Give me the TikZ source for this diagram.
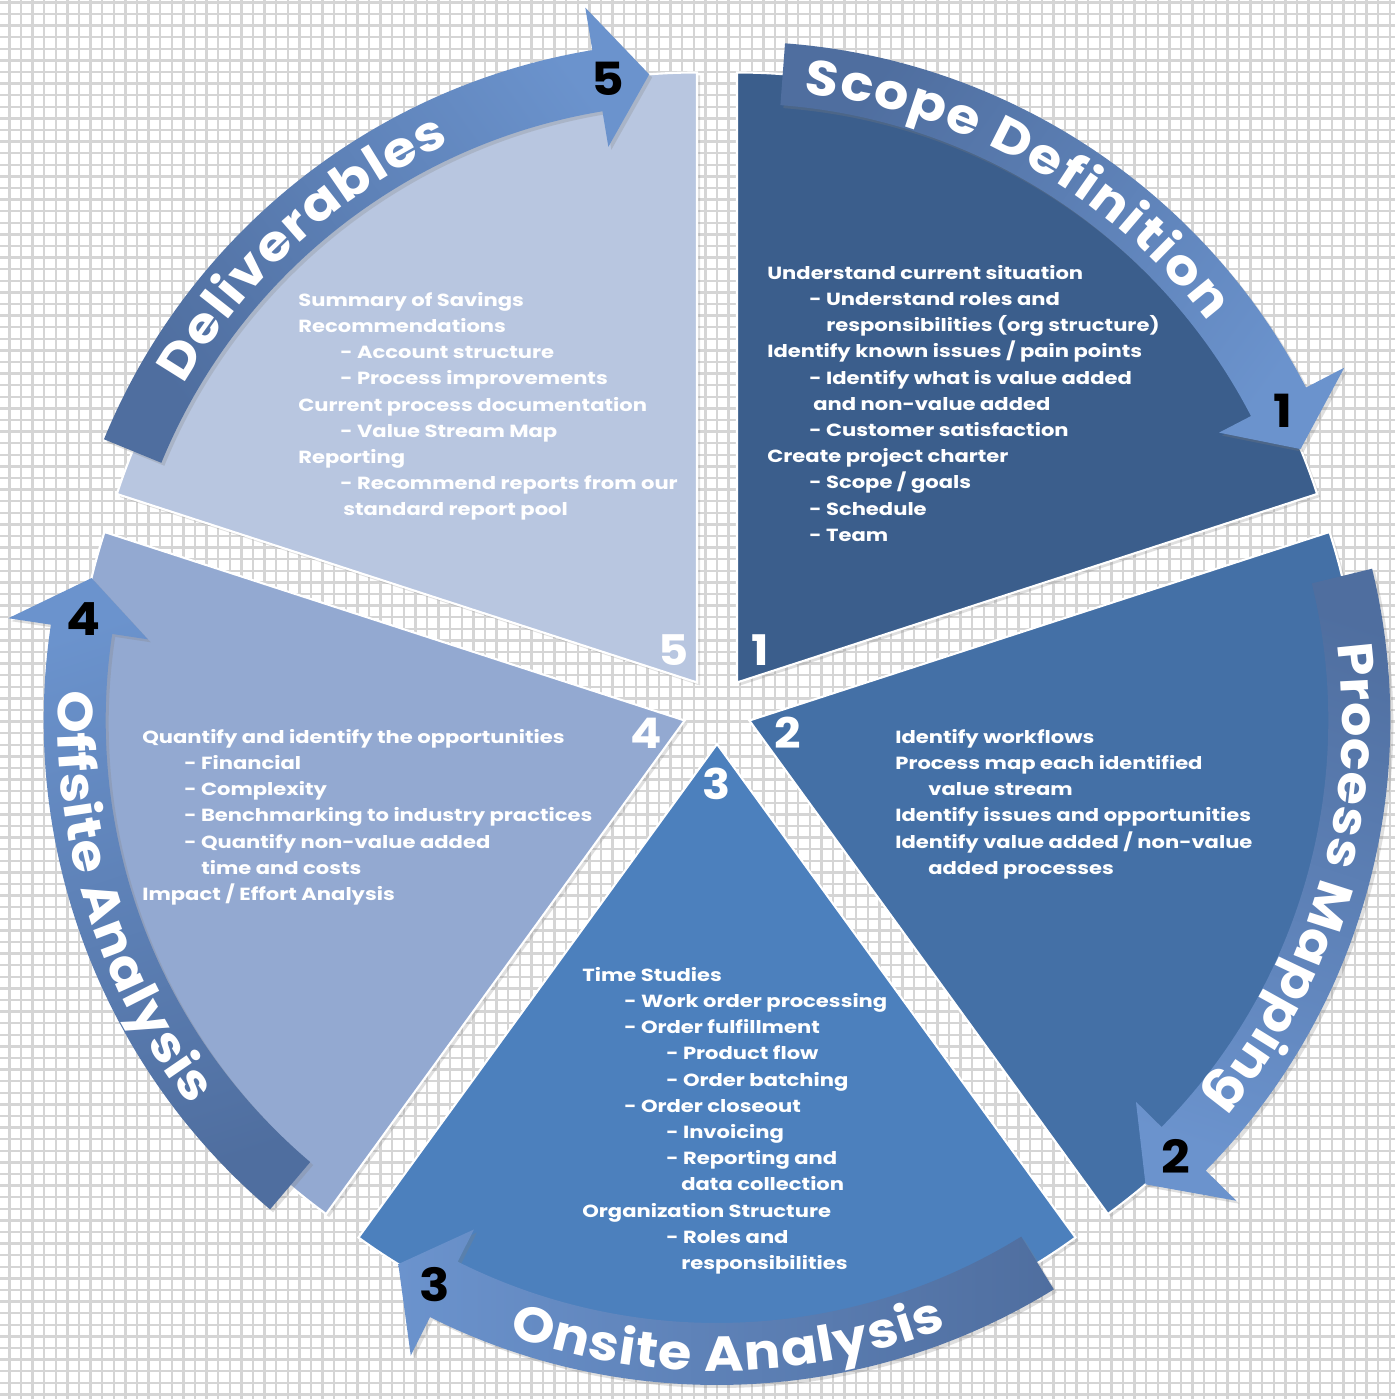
\documentclass[tikz,border=0pt]{standalone}
\usepackage{fontspec}
\setmainfont{Poppins}
\newfontfamily\bandfont[FakeStretch=1.1]{Poppins}
\newfontfamily\bodyfont[FakeStretch=1.2]{Poppins}
\usetikzlibrary{decorations.text,shadows}

\definecolor{secA}{HTML}{3B5E8C}
\definecolor{secB}{HTML}{4470A6}
\definecolor{secC}{HTML}{4C80BD}
\definecolor{secD}{HTML}{93A9D1}
\definecolor{secE}{HTML}{B8C6E0}
\definecolor{bandtail}{HTML}{4F6E9F}
\definecolor{bandhead}{HTML}{6B93CD}
\definecolor{gridgray}{HTML}{D5D5D5}

\newcommand{\indnt}[1]{\hspace*{#1cm}}

\tikzset{
  gridline/.style={gridgray, line width=1.3pt, step=0.232},
  sector/.style={draw=white, line width=1.2pt,
    drop shadow={shadow xshift=0.6mm, shadow yshift=-0.6mm, opacity=0.25}},
  band/.style={bottom color=bandtail, top color=bandhead,
    drop shadow={shadow xshift=0.6mm, shadow yshift=-0.6mm, opacity=0.25}},
  secnum/.style={text=white, font=\bandfont\bfseries\fontsize{24}{24}\selectfont},
  arrownum/.style={text=black, font=\bandfont\bfseries\fontsize{26}{26}\selectfont},
  body/.style={anchor=north west, inner sep=0pt, align=left, text=white,
    font=\bodyfont\bfseries\fontsize{10}{14.9}\selectfont},
  bandtext/.style={decorate, decoration={text along path, text align=fit to path,
    raise=-0.34cm, text color=white,
    text={|\bandfont\bfseries\fontsize{28}{28}\selectfont|#1}}}
}

\begin{document}
\begin{tikzpicture}
  \useasboundingbox (-14.34,-13.78) rectangle (13.56,14.2);
  \fill[white] (-14.34,-13.78) rectangle (13.56,14.2);
  \draw[gridline] (-14.34,-13.78) grid (13.56,14.2);

  % pie sectors, pushed out from the centre
  \foreach \b/\col/\n in {54/secA/1,-18/secB/2,-90/secC/3,-162/secD/4,126/secE/5}{
    \path[sector, fill=\col] (\b:0.68) -- ++(\b+36:12.2)
      arc[start angle=\b+36, end angle=\b-36, radius=12.2] -- cycle;
    \node[secnum] (num\n) at (\b:1.48) {\n};
  }

  % arrows round the rim
  \foreach \b/\n in {54/1,-18/2,-90/3,-162/4,126/5}{
    \pgfmathsetmacro\t{\b+31.7}
    \pgfmathsetmacro\h{\b-26.6}
    \pgfmathsetmacro\p{\b-31.5}
    \pgfmathsetmacro\sa{\b-180}
    \begin{scope}[shift={(\b:0.68)}]
      \path[band, shading angle=\sa] (\t:11.58)
        arc[start angle=\t, end angle=\h, radius=11.58]
        -- (\h:10.86) -- (\p:12.2) -- (\h:13.68) -- (\h:12.82)
        arc[start angle=\h, end angle=\t, radius=12.82] -- cycle;
      \node[arrownum] (step\n) at (\h-1:12.2) {\n};
    \end{scope}
  }

  % band titles
  \begin{scope}[shift={(54:0.68)}]
    \path[bandtext={Scope Definition}] (83.5:12.2) arc[start angle=83.5, end angle=37.5, radius=12.2];
  \end{scope}
  \begin{scope}[shift={(-18:0.68)}]
    \path[bandtext={Process Mapping}] (7.3:12.2) arc[start angle=7.3, end angle=-39.6, radius=12.2];
  \end{scope}
  \begin{scope}[shift={(-90:0.68)}]
    \path[bandtext={Onsite Analysis}] (-109.5:12.2) arc[start angle=-109.5, end angle=-68.5, radius=12.2];
  \end{scope}
  \begin{scope}[shift={(-162:0.68)}]
    \path[bandtext={Offsite Analysis}] (177.2:12.2) arc[start angle=177.2, end angle=217.2, radius=12.2];
  \end{scope}
  \begin{scope}[shift={(126:0.68)}]
    \path[bandtext={Deliverables}] (149.8:12.2) arc[start angle=149.8, end angle=114.7, radius=12.2];
  \end{scope}

  % texts in the sectors
  \node[body] (scopetext) at (1.00,8.90) {Understand current situation\\
    \indnt{0.84}- Understand roles and\\
    \indnt{1.18}responsibilities (org structure)\\
    Identify known issues / pain points\\
    \indnt{0.84}- Identify what is value added\\
    \indnt{0.92}and non-value added\\
    \indnt{0.84}- Customer satisfaction\\
    Create project charter\\
    \indnt{0.84}- Scope / goals\\
    \indnt{0.84}- Schedule\\
    \indnt{0.84}- Team};

  \node[body] (processtext) at (3.56,-0.38) {Identify workflows\\
    Process map each identified\\
    \indnt{0.66}value stream\\
    Identify issues and opportunities\\
    Identify value added / non-value\\
    \indnt{0.66}added processes};

  \node[body] (onsitetext) at (-2.70,-5.14) {Time Studies\\
    \indnt{0.84}- Work order processing\\
    \indnt{0.84}- Order fulfillment\\
    \indnt{1.68}- Product flow\\
    \indnt{1.68}- Order batching\\
    \indnt{0.84}- Order closeout\\
    \indnt{1.68}- Invoicing\\
    \indnt{1.68}- Reporting and\\
    \indnt{1.98}data collection\\
    Organization Structure\\
    \indnt{1.68}- Roles and\\
    \indnt{1.98}responsibilities};

  \node[body] (offsitetext) at (-11.50,-0.38) {Quantify and identify the opportunities\\
    \indnt{0.84}- Financial\\
    \indnt{0.84}- Complexity\\
    \indnt{0.84}- Benchmarking to industry practices\\
    \indnt{0.84}- Quantify non-value added\\
    \indnt{1.18}time and costs\\
    Impact / Effort Analysis};

  \node[body] (delivtext) at (-8.38,8.36) {Summary of Savings\\
    Recommendations\\
    \indnt{0.84}- Account structure\\
    \indnt{0.84}- Process improvements\\
    Current process documentation\\
    \indnt{0.84}- Value Stream Map\\
    Reporting\\
    \indnt{0.84}- Recommend reports from our\\
    \indnt{0.90}standard report pool};
\end{tikzpicture}
\end{document}
